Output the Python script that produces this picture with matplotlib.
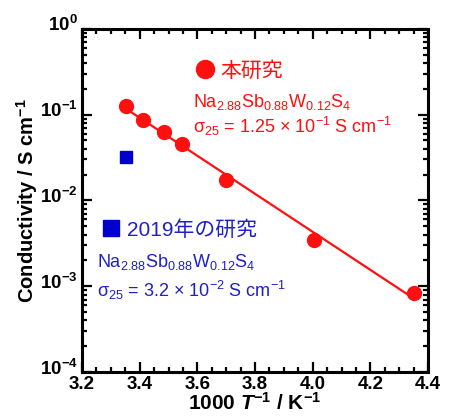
import matplotlib
matplotlib.use('Agg')
import matplotlib.pyplot as plt
import matplotlib.transforms as mtransforms
import numpy as np
from matplotlib.lines import Line2D
from matplotlib.ticker import MultipleLocator, LogLocator, FuncFormatter, NullFormatter

# data
inv_T = [3.354, 3.412, 3.485, 3.547, 3.700, 4.005, 4.350]
sigma = [0.125, 0.087, 0.062, 0.046, 0.0172, 0.0035, 0.00084]
prev_inv_T = [3.354]
prev_sigma = [0.032]

RED = '#ff1010'
BLUE = '#0000cc'
BLUE_TXT = '#2020c8'
FONT = ['Liberation Sans', 'DejaVu Sans']
JP = ['Liberation Sans', 'Noto Sans CJK JP']

plt.rcParams['font.family'] = FONT
plt.rcParams['font.weight'] = 'bold'
plt.rcParams['axes.labelweight'] = 'bold'
plt.rcParams['mathtext.fontset'] = 'custom'
plt.rcParams['mathtext.rm'] = 'Liberation Sans:weight=normal'
plt.rcParams['mathtext.it'] = 'Liberation Sans:style=italic:weight=normal'
plt.rcParams['mathtext.bf'] = 'Liberation Sans:weight=bold'
plt.rcParams['mathtext.bfit'] = 'Liberation Sans:style=italic:weight=bold'

fig = plt.figure(figsize=(4.53, 4.18), dpi=100)
ax = fig.add_axes([0.181, 0.110, 0.764, 0.821])

# Arrhenius fit
coef = np.polyfit(inv_T, np.log10(sigma), 1)
xf = np.array([min(inv_T), max(inv_T)])
ax.plot(xf, 10 ** np.polyval(coef, xf), color=RED, lw=1.6, zorder=2)
ax.plot(inv_T, sigma, 'o', color=RED, ms=10, zorder=3)
ax.plot(prev_inv_T, prev_sigma, 's', color=BLUE, ms=9, zorder=3)

ax.set_yscale('log')
ax.set_xlim(3.2, 4.4)
ax.set_ylim(1e-4, 1e0)
ax.xaxis.set_major_locator(MultipleLocator(0.2))
ax.xaxis.set_minor_locator(MultipleLocator(0.05))
ax.yaxis.set_major_locator(LogLocator(base=10, numticks=10))
ax.yaxis.set_minor_locator(LogLocator(base=10, subs=np.arange(2, 10), numticks=20))
ax.yaxis.set_minor_formatter(NullFormatter())
ax.xaxis.set_major_formatter(FuncFormatter(lambda v, p: f'{v:.1f}'))
ax.yaxis.set_major_formatter(FuncFormatter(
    lambda v, p: r'$\mathbf{10^{%d}}$' % int(round(np.log10(v)))))

ax.tick_params(which='both', direction='in', top=True, right=True, width=1.6)
ax.tick_params(which='major', length=7, labelsize=13.5, pad=3)
ax.tick_params(which='minor', length=3.5)
# y tick labels sit a little above their ticks in the reference
shift = mtransforms.ScaledTranslation(0, 4 / 72, fig.dpi_scale_trans)
for lab in ax.get_yticklabels():
    lab.set_transform(lab.get_transform() + shift)
for sp in ax.spines.values():
    sp.set_linewidth(2.2)

ax.set_xlabel(r'1000 $\mathbfit{T}^{\mathbf{-1}}$ / K$^{\mathbf{-1}}$', fontsize=15,
              labelpad=-1)
ax.set_ylabel(r'Conductivity / S cm$^{\mathbf{-1}}$', fontsize=14.5, labelpad=0)

# legends
h_red = Line2D([], [], marker='o', ls='', color=RED, ms=13)
leg1 = ax.legend([h_red], ['本研究'], loc='center left', bbox_to_anchor=(0.30, 0.878),
                 frameon=False, handlelength=0.8, handletextpad=0.35, borderpad=0,
                 prop={'family': JP, 'size': 15, 'weight': 'normal'})
leg1.get_texts()[0].set_color(RED)
ax.add_artist(leg1)
h_blue = Line2D([], [], marker='s', ls='', color=BLUE, ms=11)
leg2 = ax.legend([h_blue], ['2019年の研究'], loc='center left', bbox_to_anchor=(0.03, 0.414),
                 frameon=False, handlelength=0.8, handletextpad=0.35, borderpad=0,
                 prop={'family': JP, 'size': 15, 'weight': 'normal'})
leg2.get_texts()[0].set_color(BLUE_TXT)

formula = r'Na$_{2.88}$Sb$_{0.88}$W$_{0.12}$S$_4$'
kw = dict(transform=ax.transAxes, fontsize=13, va='center', fontweight='normal')
ax.text(0.321, 0.787, formula, color=RED, **kw)
ax.text(0.321, 0.717, r'σ$_{25}$ = 1.25 × 10$^{-1}$ S cm$^{-1}$', color=RED, **kw)
ax.text(0.043, 0.321, formula, color=BLUE_TXT, **kw)
ax.text(0.043, 0.239, r'σ$_{25}$ = 3.2 × 10$^{-2}$ S cm$^{-1}$', color=BLUE_TXT, **kw)

fig.savefig('out.png', dpi=100)
